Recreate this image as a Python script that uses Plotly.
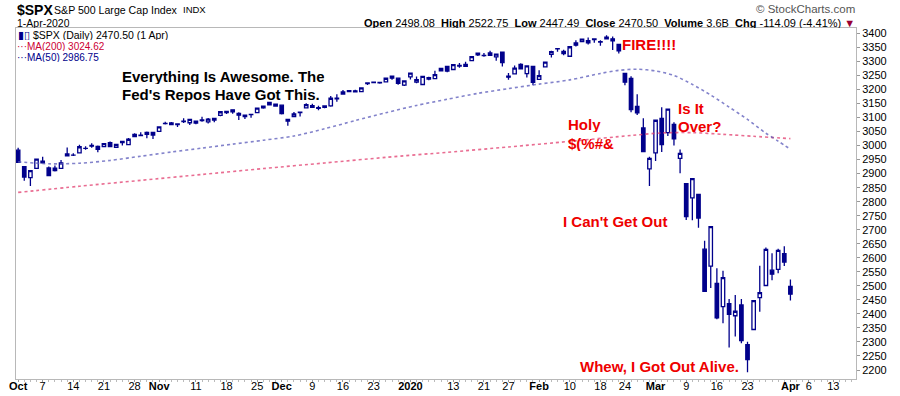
import plotly.graph_objects as go

dates = [
    "2019-10-01","2019-10-02","2019-10-03","2019-10-04","2019-10-07","2019-10-08","2019-10-09","2019-10-10","2019-10-11",
    "2019-10-14","2019-10-15","2019-10-16","2019-10-17","2019-10-18","2019-10-21","2019-10-22","2019-10-23","2019-10-24",
    "2019-10-25","2019-10-28","2019-10-29","2019-10-30","2019-10-31",
    "2019-11-01","2019-11-04","2019-11-05","2019-11-06","2019-11-07","2019-11-08","2019-11-11","2019-11-12","2019-11-13",
    "2019-11-14","2019-11-15","2019-11-18","2019-11-19","2019-11-20","2019-11-21","2019-11-22","2019-11-25","2019-11-26",
    "2019-11-27","2019-11-29",
    "2019-12-02","2019-12-03","2019-12-04","2019-12-05","2019-12-06","2019-12-09","2019-12-10","2019-12-11","2019-12-12",
    "2019-12-13","2019-12-16","2019-12-17","2019-12-18","2019-12-19","2019-12-20","2019-12-23","2019-12-24","2019-12-26",
    "2019-12-27","2019-12-30","2019-12-31",
    "2020-01-02","2020-01-03","2020-01-06","2020-01-07","2020-01-08","2020-01-09","2020-01-10","2020-01-13","2020-01-14",
    "2020-01-15","2020-01-16","2020-01-17","2020-01-21","2020-01-22","2020-01-23","2020-01-24","2020-01-27","2020-01-28",
    "2020-01-29","2020-01-30","2020-01-31",
    "2020-02-03","2020-02-04","2020-02-05","2020-02-06","2020-02-07","2020-02-10","2020-02-11","2020-02-12","2020-02-13",
    "2020-02-14","2020-02-18","2020-02-19","2020-02-20","2020-02-21","2020-02-24","2020-02-25","2020-02-26","2020-02-27",
    "2020-02-28",
    "2020-03-02","2020-03-03","2020-03-04","2020-03-05","2020-03-06","2020-03-09","2020-03-10","2020-03-11","2020-03-12",
    "2020-03-13","2020-03-16","2020-03-17","2020-03-18","2020-03-19","2020-03-20","2020-03-23","2020-03-24","2020-03-25",
    "2020-03-26","2020-03-27","2020-03-30","2020-03-31",
    "2020-04-01",
]

opens = [
    2983.69, 2924.78, 2885.38, 2918.56, 2944.23, 2920.40, 2911.10, 2918.55, 2963.07, 2965.81, 2973.61, 2989.68, 3000.77,
    2996.84, 2996.48, 3010.73, 2994.01, 3014.78, 3003.32, 3032.12, 3035.39, 3039.74, 3046.90,
    3050.72, 3078.96, 3080.80, 3075.10, 3087.02, 3081.25, 3080.33, 3089.28, 3084.18, 3090.75, 3107.92, 3117.91, 3127.45,
    3114.66, 3108.49, 3111.41, 3117.44, 3134.85, 3145.49, 3147.18,
    3143.85, 3087.41, 3103.50, 3119.21, 3134.62, 3141.86, 3135.36, 3135.75, 3141.23, 3166.65, 3183.63, 3195.40, 3195.21,
    3192.32, 3223.33, 3226.05, 3225.45, 3227.20, 3247.23, 3240.09, 3215.18,
    3244.67, 3226.36, 3217.55, 3241.86, 3238.59, 3266.03, 3281.81, 3271.13, 3285.35, 3282.27, 3302.97, 3323.66, 3321.03,
    3330.02, 3315.77, 3333.10, 3247.16, 3255.35, 3289.46, 3256.45, 3282.33,
    3235.66, 3280.61, 3324.91, 3344.92, 3335.54, 3318.28, 3365.87, 3370.50, 3365.90, 3378.08, 3369.04, 3380.39, 3380.45,
    3360.50, 3257.61, 3238.94, 3139.90, 3062.54, 2916.90,
    2974.28, 3096.46, 3045.75, 3075.70, 2954.20, 2863.89, 2813.48, 2825.60, 2630.86, 2569.99, 2508.59, 2425.66, 2436.50,
    2393.48, 2431.94, 2290.71, 2344.44, 2457.77, 2501.29, 2555.87, 2558.98, 2614.69,
    2498.08,
]
highs = [
    2992.53, 2924.78, 2911.13, 2953.74, 2959.75, 2925.47, 2929.32, 2948.46, 2993.28, 2972.84, 3003.28, 2997.54, 3008.29,
    3000.00, 3007.33, 3014.57, 3004.78, 3016.07, 3027.39, 3044.08, 3047.87, 3050.10, 3046.90,
    3066.95, 3085.20, 3083.95, 3078.34, 3097.77, 3093.09, 3088.33, 3102.61, 3098.06, 3098.20, 3120.46, 3124.17, 3127.64,
    3118.97, 3110.11, 3112.87, 3133.83, 3142.69, 3154.26, 3150.30,
    3144.31, 3094.97, 3119.38, 3119.45, 3150.60, 3148.87, 3142.12, 3143.98, 3176.28, 3182.68, 3197.71, 3198.22, 3198.48,
    3205.48, 3225.65, 3227.78, 3226.43, 3240.08, 3247.93, 3240.92, 3231.72,
    3258.14, 3246.15, 3246.84, 3244.91, 3267.07, 3275.58, 3282.99, 3288.13, 3294.25, 3298.66, 3317.11, 3329.88, 3329.79,
    3337.77, 3326.88, 3333.18, 3258.85, 3285.78, 3293.47, 3285.91, 3282.33,
    3268.44, 3299.43, 3337.58, 3347.96, 3341.42, 3352.26, 3375.63, 3381.47, 3385.09, 3380.69, 3375.01, 3393.52, 3389.15,
    3360.76, 3259.81, 3246.99, 3182.51, 3097.07, 2959.72,
    3090.96, 3136.72, 3130.97, 3083.04, 2985.93, 2863.89, 2882.59, 2825.60, 2660.95, 2711.33, 2562.98, 2553.93, 2453.57,
    2466.97, 2453.01, 2300.73, 2449.71, 2571.42, 2637.01, 2615.91, 2631.80, 2641.39,
    2522.75,
]
lows = [
    2938.70, 2874.93, 2855.94, 2918.56, 2935.68, 2892.66, 2907.41, 2917.12, 2963.07, 2962.94, 2973.61, 2985.20, 2991.79,
    2976.31, 2995.35, 2995.04, 2991.21, 3000.42, 3001.94, 3032.12, 3034.81, 3025.96, 3023.19,
    3050.72, 3074.87, 3072.15, 3065.89, 3080.23, 3073.58, 3075.82, 3084.73, 3078.80, 3083.26, 3104.60, 3112.06, 3113.47,
    3091.41, 3094.55, 3099.26, 3117.44, 3131.00, 3143.41, 3139.34,
    3110.78, 3070.33, 3102.53, 3103.76, 3134.62, 3135.46, 3126.09, 3133.21, 3138.47, 3156.51, 3183.63, 3191.03, 3191.14,
    3192.32, 3216.03, 3222.30, 3220.51, 3227.20, 3234.37, 3216.57, 3212.03,
    3235.53, 3222.34, 3214.64, 3232.43, 3236.67, 3263.67, 3260.86, 3268.43, 3277.19, 3280.69, 3302.82, 3318.86, 3316.61,
    3320.04, 3301.87, 3281.53, 3234.50, 3253.22, 3271.89, 3242.80, 3214.68,
    3235.66, 3280.61, 3313.75, 3334.39, 3322.12, 3317.77, 3352.72, 3369.72, 3360.52, 3366.15, 3355.61, 3378.83, 3341.02,
    3328.45, 3214.65, 3118.77, 3108.99, 2977.39, 2855.84,
    2945.19, 2976.63, 3034.38, 2999.83, 2901.54, 2734.43, 2734.00, 2707.22, 2478.86, 2492.37, 2380.94, 2367.04, 2280.52,
    2319.78, 2295.56, 2191.86, 2344.44, 2407.53, 2500.72, 2520.02, 2545.28, 2571.15,
    2447.49,
]
closes = [
    2940.25, 2887.61, 2910.63, 2952.01, 2938.79, 2893.06, 2919.40, 2938.13, 2970.27, 2966.15, 2995.68, 2989.69, 2997.95,
    2986.20, 3006.72, 2995.99, 3004.52, 3010.29, 3022.55, 3039.42, 3036.89, 3046.77, 3037.56,
    3066.91, 3078.27, 3074.62, 3076.78, 3085.18, 3093.08, 3087.01, 3091.84, 3094.04, 3096.63, 3120.46, 3122.03, 3120.18,
    3108.46, 3103.54, 3110.29, 3133.64, 3140.52, 3153.63, 3140.98,
    3113.87, 3093.20, 3112.76, 3117.43, 3145.91, 3135.96, 3132.52, 3141.63, 3168.57, 3168.80, 3191.45, 3192.52, 3191.14,
    3205.37, 3221.22, 3224.01, 3223.38, 3239.91, 3240.02, 3221.29, 3230.78,
    3257.85, 3234.85, 3246.28, 3237.18, 3253.05, 3274.70, 3265.35, 3288.13, 3283.15, 3289.29, 3316.81, 3329.62, 3320.79,
    3321.75, 3325.54, 3295.47, 3243.63, 3276.24, 3273.40, 3283.66, 3225.52,
    3248.92, 3297.59, 3334.69, 3345.78, 3327.71, 3352.09, 3357.75, 3379.45, 3373.94, 3380.16, 3370.29, 3386.15, 3373.23,
    3337.75, 3225.89, 3128.21, 3116.39, 2978.76, 2954.22,
    3090.23, 3003.37, 3130.12, 3023.94, 2972.37, 2746.56, 2882.23, 2741.38, 2480.64, 2711.02, 2386.13, 2529.19, 2398.10,
    2409.39, 2304.92, 2237.40, 2447.33, 2475.56, 2630.07, 2541.47, 2626.65, 2584.59,
    2470.50,
]

# trading days after the last bar (empty space on the right of the chart)
future_dates = ["2020-04-02","2020-04-03","2020-04-06","2020-04-07","2020-04-08","2020-04-09",
                "2020-04-13","2020-04-14","2020-04-15","2020-04-16"]

# moving averages
ma50_dates = ["2019-10-01","2019-10-08","2019-10-15","2019-10-22","2019-10-29","2019-11-05","2019-11-12","2019-11-19",
              "2019-11-26","2019-12-04","2019-12-11","2019-12-18","2019-12-26","2020-01-03","2020-01-10","2020-01-17",
              "2020-01-27","2020-02-03","2020-02-10","2020-02-18","2020-02-21","2020-02-26","2020-03-02","2020-03-05",
              "2020-03-10","2020-03-13","2020-03-18","2020-03-23","2020-03-26","2020-03-30","2020-04-01"]
ma50_vals = [2942, 2935, 2937, 2947, 2962, 2977, 2991, 3005, 3019, 3034, 3060, 3089, 3117, 3143, 3165, 3186,
             3203, 3219, 3234, 3257, 3268, 3272, 3266, 3250, 3218, 3180, 3137, 3093, 3044, 3016, 2986.75]
ma200_dates = ["2019-10-01","2019-10-15","2019-10-29","2019-11-12","2019-11-26","2019-12-11","2019-12-26","2020-01-10",
               "2020-01-27","2020-02-10","2020-02-25","2020-03-03","2020-03-10","2020-03-17","2020-03-24","2020-04-01"]
ma200_vals = [2833, 2855, 2876, 2897, 2918, 2938, 2958, 2976, 2995, 3015, 3036, 3045, 3046, 3040, 3033, 3024.62]

tick_dates = ["2019-10-01","2019-10-07","2019-10-14","2019-10-21","2019-10-28","2019-11-01","2019-11-11","2019-11-18",
              "2019-11-25","2019-12-02","2019-12-09","2019-12-16","2019-12-23","2020-01-02","2020-01-13","2020-01-21",
              "2020-01-27","2020-02-03","2020-02-10","2020-02-18","2020-02-24","2020-03-02","2020-03-09","2020-03-16",
              "2020-03-23","2020-04-01","2020-04-06","2020-04-13"]
tick_labels = ["<b>Oct</b>","7","14","21","28","<b>Nov</b>","11","18","25","<b>Dec</b>","9","16","23","<b>2020</b>",
               "13","21","27","<b>Feb</b>","10","18","24","<b>Mar</b>","9","16","23","<b>Apr</b>","6","13"]
y_ticks = list(range(2200, 3401, 50))

all_dates = dates + future_dates
pos = {d: i for i, d in enumerate(all_dates)}
xs = [pos[d] for d in dates]

NAVY = "#00008b"
FONT = "Liberation Sans, Arial, sans-serif"

fig = go.Figure()
fig.add_trace(go.Scatter(x=[pos[d] for d in ma200_dates], y=ma200_vals, mode="lines",
                         line=dict(color="rgba(225,60,110,0.75)", width=1.6, dash="dot", shape="spline", smoothing=0.8),
                         hoverinfo="skip", showlegend=False))
fig.add_trace(go.Scatter(x=[pos[d] for d in ma50_dates], y=ma50_vals, mode="lines",
                         line=dict(color="rgba(90,90,185,0.75)", width=1.6, dash="dot", shape="spline", smoothing=0.8),
                         hoverinfo="skip", showlegend=False))
fig.add_trace(go.Candlestick(x=xs, open=opens, high=highs, low=lows, close=closes,
                             increasing=dict(fillcolor="white", line=dict(color=NAVY, width=1.3)),
                             decreasing=dict(fillcolor=NAVY, line=dict(color=NAVY, width=1.3)),
                             whiskerwidth=0, showlegend=False))

L, R, T, B = 16, 856, 28, 379
def px(x):
    return (x - L) / (R - L)
def py(y):
    return (B - y) / (B - T)

ann = []
def text(x, y, s, size, color="black", xanchor="left", family=FONT, height=None):
    a = dict(x=px(x), y=py(y), xref="paper", yref="paper", text=s, showarrow=False,
             xanchor=xanchor, yanchor="middle", font=dict(size=size, color=color, family=family), borderpad=0)
    if height:
        a["height"] = height
    ann.append(a)

# header
text(16, 10, "<b>$SPX</b>", 14)
text(53, 10, "S&amp;P 500 Large Cap Index", 10.6)
text(182, 10, "INDX", 9.5)
text(16, 22, "1-Apr-2020", 10.5, height=11)
text(856, 9, "© StockCharts.com", 11.5, color="#555555", xanchor="right")
text(856, 22, "<b>Open</b> 2498.08  <b>High</b> 2522.75  <b>Low</b> 2447.49  <b>Close</b> 2470.50  "
              "<b>Volume</b> 3.6B  <b>Chg</b> -114.09 (-4.41%) <span style='color:#990033'>▼</span>", 11,
     xanchor="right", height=11)
# legend
text(17, 35, "<span style='color:#00008b'>▮▯</span> $SPX (Daily) 2470.50 (1 Apr)", 10.5, height=10)
text(16, 46, "···MA(200) 3024.62", 10, color="#cc0033", height=10)
text(16, 57, "···MA(50) 2986.75", 10, color="#00008b", height=10)
# commentary
text(121, 76, "<b>Everything Is Awesome. The</b>", 15, height=16)
text(121, 94, "<b>Fed's Repos Have Got This.</b>", 15, height=16)
RED = "#ee0000"
text(621, 44, "<b>FIRE!!!!</b>", 15, RED)
text(567, 124, "<b>Holy</b>", 15, RED, height=16)
text(567, 143, "<b>$(%#&amp;</b>", 15, RED, height=16)
text(677, 108, "<b>Is It</b>", 15, RED, height=16)
text(677, 126, "<b>Over?</b>", 15, RED, height=16)
text(562, 221, "<b>I Can't Get Out</b>", 15, RED)
text(579, 366, "<b>Whew, I Got Out Alive.</b>", 15, RED)

fig.update_layout(
    width=900, height=396,
    margin=dict(l=L, r=900 - R, t=T, b=396 - B, autoexpand=False),
    paper_bgcolor="white", plot_bgcolor="white",
    font=dict(family=FONT, size=11, color="black"),
    boxgap=0.2,
    annotations=ann,
    xaxis=dict(range=[-0.35, 136.7], tickmode="array", tickvals=[pos[d] for d in tick_dates], ticktext=tick_labels,
               showgrid=False, zeroline=False, showline=True, linecolor="#b8b8b8", linewidth=1, mirror=True,
               ticks="outside", ticklen=2, tickcolor="#999999", tickfont=dict(size=11, family=FONT),
               ticklabelstandoff=-5,
               minor=dict(dtick=1, tick0=0, ticks="outside", ticklen=2, tickcolor="#bbbbbb"),
               rangeslider=dict(visible=False), fixedrange=True, automargin=False),
    yaxis=dict(range=[2168, 3419], side="right", tickmode="array", tickvals=y_ticks,
               showgrid=False, zeroline=False, showline=True, linecolor="#b8b8b8", linewidth=1, mirror=True,
               ticks="outside", ticklen=3, tickcolor="#999999", tickfont=dict(size=11, family=FONT),
               automargin=False, fixedrange=True),
)

fig.write_html("out.html", config={"displayModeBar": False, "staticPlot": False},
               post_script="document.body.style.margin='0';document.body.style.padding='0';"
                           "document.body.style.overflow='hidden';")
